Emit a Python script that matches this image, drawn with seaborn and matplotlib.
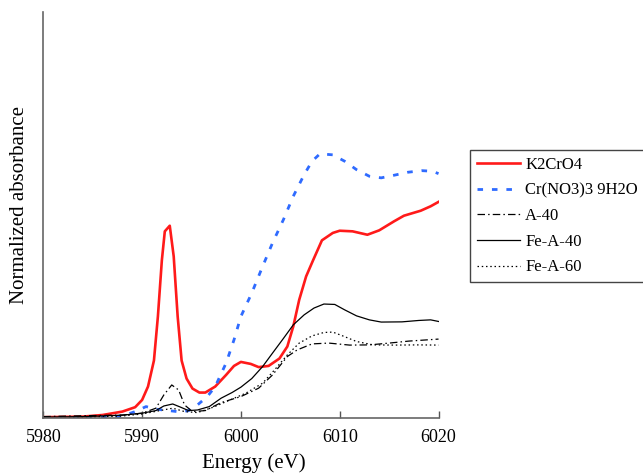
import seaborn as sns
import matplotlib.pyplot as plt
import pandas as pd

# energy grids (eV) and normalized absorbance
eK2 = [5980, 5984, 5986, 5988, 5989.3, 5990, 5990.6, 5991.2, 5991.6, 5992, 5992.3, 5992.8,
       5993.2, 5993.6, 5994, 5994.5, 5995.1, 5995.8, 5996.4, 5997.4, 5998.5, 5999.3, 6000,
       6001, 6001.8, 6002.8, 6003.9, 6004.7, 6005.3, 6005.9, 6006.6, 6007.3, 6008.2, 6009.3,
       6010, 6011.3, 6012.8, 6014, 6015.5, 6016.5, 6018.2, 6019.2, 6020]
yK2 = [0.017, 0.02, 0.028, 0.045, 0.067, 0.103, 0.17, 0.30, 0.52, 0.80, 0.945, 0.973,
       0.82, 0.52, 0.30, 0.21, 0.16, 0.14, 0.14, 0.17, 0.228, 0.273, 0.293,
       0.283, 0.267, 0.273, 0.31, 0.37, 0.47, 0.603, 0.72, 0.80, 0.90, 0.937,
       0.948, 0.945, 0.928, 0.95, 0.995, 1.023, 1.048, 1.07, 1.092]

eCr = [5980, 5984, 5988, 5989.3, 5990.4, 5991.4, 5992.7, 5993.9, 5994.7, 5995.6, 5996.6,
       5997.4, 5998.5, 5999.3, 6000, 6001.1, 6002.2, 6003.2, 6004.3, 6005.3, 6006.4, 6007.2,
       6008, 6009.3, 6010.5, 6011.7, 6013, 6014.2, 6015.5, 6016.9, 6018.3, 6019.4, 6020]
yCr = [0.007, 0.012, 0.023, 0.045, 0.07, 0.057, 0.05, 0.043, 0.05, 0.078, 0.12,
       0.17, 0.287, 0.403, 0.52, 0.637, 0.77, 0.887, 1.003, 1.12, 1.228, 1.295,
       1.332, 1.327, 1.295, 1.253, 1.22, 1.212, 1.225, 1.24, 1.248, 1.245, 1.233]

eA40 = [5980, 5988, 5990, 5991.4, 5992.2, 5993, 5993.7, 5994.3, 5995.1, 5996.4, 5998,
        6000, 6001.8, 6003.2, 6004.7, 6005.7, 6007.2, 6008.9, 6011, 6013, 6015, 6017, 6020]
yA40 = [0.02, 0.028, 0.037, 0.062, 0.128, 0.178, 0.153, 0.078, 0.045, 0.05, 0.09,
        0.12, 0.162, 0.228, 0.32, 0.353, 0.383, 0.387, 0.377, 0.378, 0.387, 0.397, 0.407]

eFeA40 = [5980, 5984, 5988, 5990, 5991.4, 5992.2, 5993.1, 5993.9, 5994.7, 5995.6, 5996.8,
          5998, 5999.1, 6000, 6001.1, 6002.2, 6003.2, 6004.3, 6005.3, 6006.4, 6007.4,
          6008.4, 6009.5, 6010.5, 6011.7, 6013, 6014.2, 6016.3, 6018, 6019.2, 6020]
yFeA40 = [0.017, 0.02, 0.027, 0.037, 0.05, 0.073, 0.083, 0.067, 0.05, 0.053, 0.07,
          0.112, 0.14, 0.167, 0.21, 0.27, 0.337, 0.41, 0.478, 0.528, 0.562,
          0.582, 0.58, 0.553, 0.523, 0.503, 0.492, 0.493, 0.5, 0.503, 0.495]

eFeA60 = [5980, 5988, 5990, 5991.8, 5993.1, 5994.3, 5995.6, 5997.2, 5998.9, 6000.5, 6002.2,
          6003.4, 6004.7, 6005.9, 6007.2, 6008.4, 6009.3, 6010.3, 6011.7, 6013.4, 6015.5,
          6018, 6020]
yFeA60 = [0.01, 0.023, 0.033, 0.05, 0.062, 0.045, 0.04, 0.067, 0.103, 0.137, 0.187,
          0.253, 0.328, 0.387, 0.423, 0.44, 0.442, 0.423, 0.395, 0.378, 0.377,
          0.378, 0.377]

plt.rcParams['font.family'] = ['Liberation Serif', 'DejaVu Serif']

fig = plt.figure(figsize=(6.43, 4.75), dpi=100)
ax = fig.add_axes([0.0673, 0.12, 0.6147, 0.8547])

sns.lineplot(x=eK2, y=yK2, color='#ff1a1a', lw=1.9, label='K2CrO4', ax=ax)
sns.lineplot(x=eCr, y=yCr, color='#2f6bff', lw=2.0, linestyle=(0, (2, 3.2)),
             label='Cr(NO3)3 9H2O', ax=ax)
sns.lineplot(x=eA40, y=yA40, color='black', lw=0.9, linestyle=(0, (6, 2.5, 1.2, 2.5)),
             label='A-40', ax=ax)
sns.lineplot(x=eFeA40, y=yFeA40, color='black', lw=0.9, label='Fe-A-40', ax=ax)
sns.lineplot(x=eFeA60, y=yFeA60, color='black', lw=0.9, linestyle=(0, (1.2, 2.2)),
             label='Fe-A-60', ax=ax)

ax.set_xlim(5980, 6020)
ax.set_ylim(0.013, 2.04)
ax.set_xticks([5980, 5990, 6000, 6010, 6020])
ax.set_yticks([])
ax.tick_params(axis='x', direction='in', length=5, width=1, color='#555555',
               labelsize=13, pad=8)
for side in ['top', 'right']:
    ax.spines[side].set_visible(False)
for side in ['left', 'bottom']:
    ax.spines[side].set_color('#666666')
    ax.spines[side].set_linewidth(1.2)

ax.set_xlabel('Energy (eV)', fontsize=15, labelpad=5)
ax.xaxis.label.set_x(0.533)
ax.set_ylabel('Normalized absorbance', fontsize=15, labelpad=10)
ax.yaxis.label.set_y(0.525)

leg = ax.legend(loc='upper left', bbox_to_anchor=(0.731, 0.684),
                bbox_transform=fig.transFigure, fontsize=12, frameon=True,
                fancybox=False, edgecolor='#444444', framealpha=1,
                handlelength=2.6, handletextpad=0.3, borderaxespad=0,
                labelspacing=0.58, borderpad=0.4)
leg.get_frame().set_linewidth(1.0)

fig.savefig('out.png', dpi=100)
